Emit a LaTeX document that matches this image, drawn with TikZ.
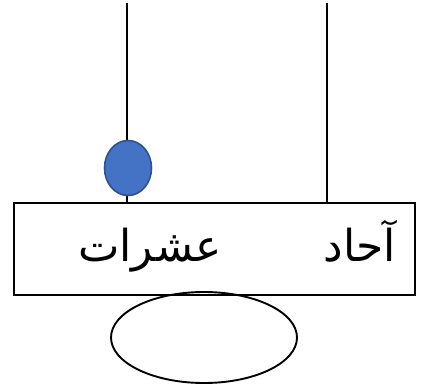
\documentclass[tikz,border=0pt]{standalone}
\usepackage{fontspec}
\usetikzlibrary{shapes.geometric}
\newfontfamily\arabicfont[Script=Arabic]{DejaVu Sans}
\TeXXeTstate=1
\definecolor{bluefill}{HTML}{4472C4}
\definecolor{blueedge}{HTML}{2F528F}
\begin{document}
\begin{tikzpicture}[x=1pt,y=-1pt,
  thin line/.style={line width=1.9pt,black},
  lbl/.style={inner sep=0pt,anchor=base,font=\arabicfont\fontsize{44}{48}\selectfont}]
\useasboundingbox (0,0) rectangle (422,387);
\node[draw,line width=1.9pt,minimum width=401pt,minimum height=92pt,inner sep=0pt] (box) at (214.5,249) {};
\coordinate (t1) at (126.7,3);
\coordinate (t2) at (327,3);
\draw[thin line] (t1) -- (t1 |- box.north);
\draw[thin line] (t2) -- (t2 |- box.north);
\node[ellipse,draw=blueedge,fill=bluefill,line width=1.6pt,minimum width=47pt,minimum height=55pt,inner sep=0pt] (bead) at (128,168) {};
\node[ellipse,draw,line width=1.9pt,minimum width=186pt,minimum height=91pt,inner sep=0pt] (base) at (204,337.5) {};
\node[lbl] (tens) at (150,261) {\beginR عشرات\endR};
\node[lbl] (ones) at (360,261) {\beginR آحاد\endR};
\end{tikzpicture}
\end{document}
